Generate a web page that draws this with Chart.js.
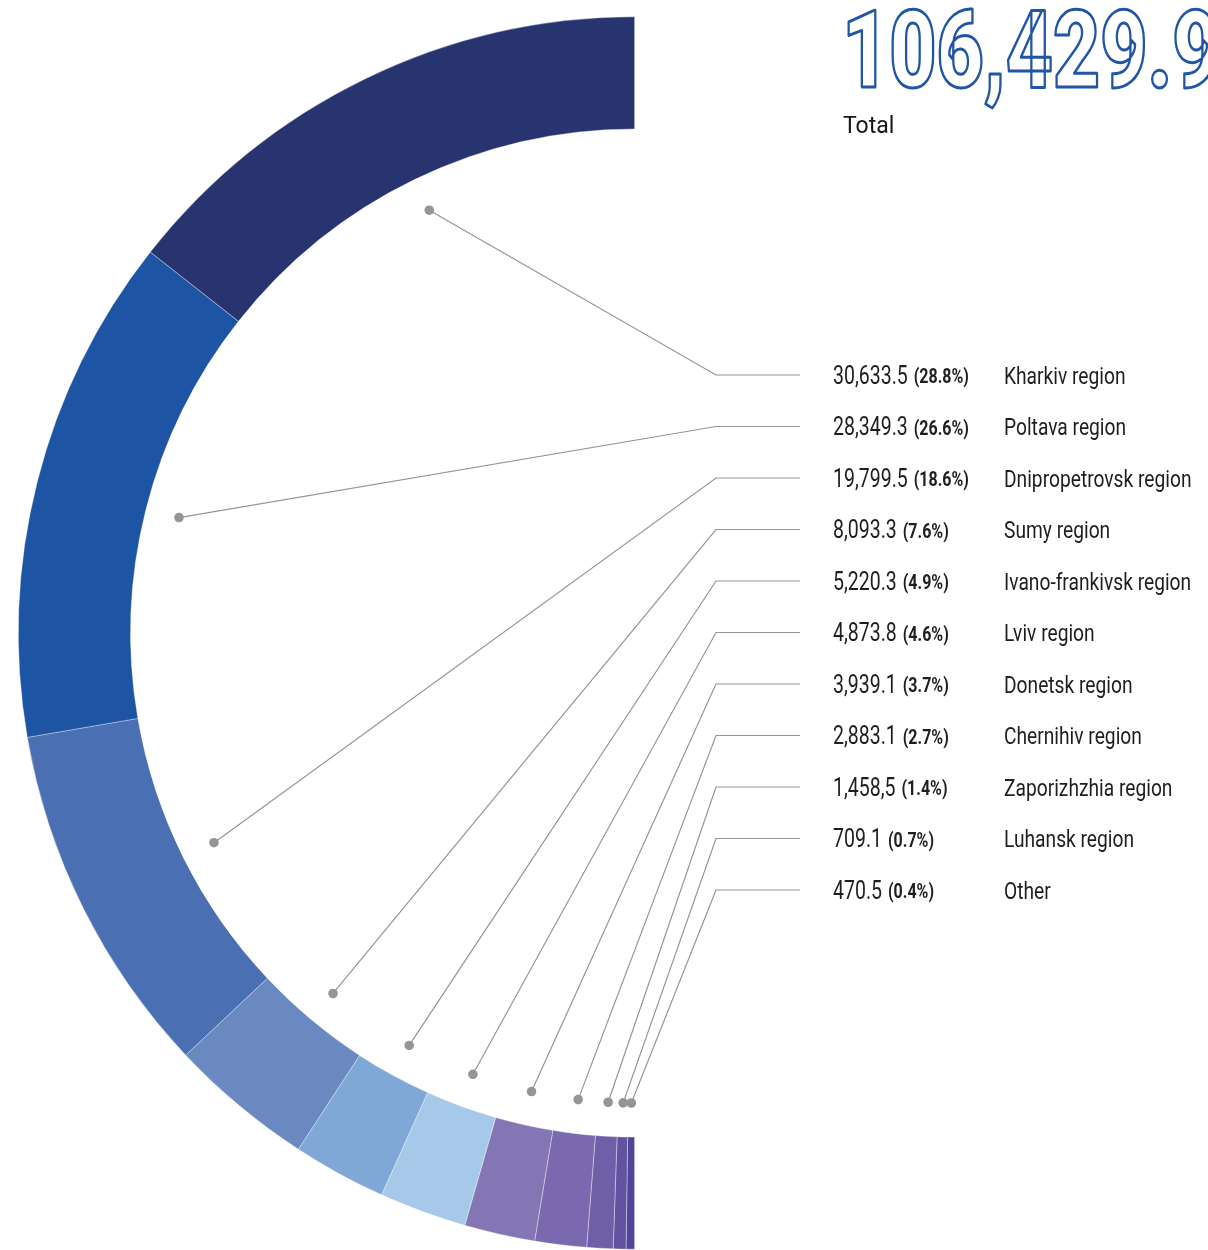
<!DOCTYPE html>
<html>
<head>
<meta charset="utf-8">
<script src="https://cdn.jsdelivr.net/npm/chart.js@4"></script>
<style>
  html, body { margin: 0; padding: 0; background: #ffffff; }
  #wrap { width: 1208px; height: 1250px; overflow: hidden; }
</style>
</head>
<body>
<div id="wrap"><canvas id="c" width="1208" height="1250"></canvas></div>
<script>
// ---- data ----
const regions = ['Kharkiv region', 'Poltava region', 'Dnipropetrovsk region', 'Sumy region',
  'Ivano-frankivsk region', 'Lviv region', 'Donetsk region', 'Chernihiv region',
  'Zaporizhzhia region', 'Luhansk region', 'Other'];
const values = [30633.5, 28349.3, 19799.5, 8093.3, 5220.3, 4873.8, 3939.1, 2883.1, 1458.5, 709.1, 470.5];
const valueLabels = ['30,633.5', '28,349.3', '19,799.5', '8,093.3', '5,220.3', '4,873.8',
  '3,939.1', '2,883.1', '1,458,5', '709.1', '470.5'];
const percentLabels = ['28.8%', '26.6%', '18.6%', '7.6%', '4.9%', '4.6%', '3.7%', '2.7%', '1.4%', '0.7%', '0.4%'];
const totalLabel = '106,429.9';
const totalCaption = 'Total';

const colors = ['#27346f', '#1e54a4', '#4a6fb3', '#6a89c1', '#80a8d7', '#a6c9ea',
  '#8475b5', '#7a69ae', '#6f5fa8', '#6253a1', '#53449a'];

// Chart.js draws clockwise from rotation; start at bottom so order is reversed
const rev = a => a.slice().reverse();

function txt(ctx, s, x, y, font, sx, mode) {
  ctx.save();
  ctx.font = font;
  ctx.translate(x, y);
  ctx.scale(sx, 1);
  if (mode === 'stroke') { ctx.fillText(s, 0, 0); ctx.strokeText(s, 0, 0); }
  else ctx.fillText(s, 0, 0);
  const w = ctx.measureText(s).width * sx;
  ctx.restore();
  return w;
}

const leaderPlugin = {
  id: 'leaders',
  afterDraw(chart) {
    const ctx = chart.ctx;
    const meta = chart.getDatasetMeta(0);
    const n = regions.length;
    const dotR = 470;
    ctx.save();
    ctx.textBaseline = 'alphabetic';
    ctx.textAlign = 'left';
    for (let i = 0; i < n; i++) {
      const arc = meta.data[n - 1 - i];
      const p = arc.getProps(['x', 'y', 'startAngle', 'endAngle'], true);
      const mid = (p.startAngle + p.endAngle) / 2;
      const dx = p.x + Math.cos(mid) * dotR;
      const dy = p.y + Math.sin(mid) * dotR;
      const ly = 375 + i * 51.5;
      ctx.strokeStyle = '#959595';
      ctx.lineWidth = 1.2;
      ctx.beginPath();
      ctx.moveTo(dx, dy);
      ctx.lineTo(716, ly);
      ctx.lineTo(800, ly);
      ctx.stroke();
      ctx.fillStyle = '#959595';
      ctx.beginPath();
      ctx.arc(dx, dy, 4.8, 0, Math.PI * 2);
      ctx.fill();

      ctx.fillStyle = '#1e1e1e';
      const base = ly + 8.5;
      const w = txt(ctx, valueLabels[i], 833, base, '400 25px Roboto', 0.78);
      txt(ctx, '(' + percentLabels[i] + ')', 833 + w + 6, base - 0.5, '700 20px Roboto', 0.8);
      txt(ctx, regions[i], 1004, base, '400 24px Roboto', 0.8);
    }
    // big total
    ctx.lineWidth = 3;
    ctx.strokeStyle = '#2155a5';
    ctx.fillStyle = '#ffffff';
    ctx.lineJoin = 'round';
    txt(ctx, totalLabel, 842, 87, '900 108px Roboto', 0.755, 'stroke');
    ctx.fillStyle = '#161616';
    txt(ctx, totalCaption, 843, 133, '400 23px Roboto', 1);
    ctx.restore();
  }
};

new Chart(document.getElementById('c'), {
  type: 'doughnut',
  data: {
    labels: rev(regions),
    datasets: [{
      data: rev(values),
      backgroundColor: rev(colors),
      borderColor: 'rgba(255,255,255,0.45)',
      borderWidth: 0.8
    }]
  },
  options: {
    responsive: false,
    animation: false,
    rotation: 180,
    circumference: 180,
    cutout: '81.8%',
    layout: { padding: { left: 18, right: 573, top: 16, bottom: 0 } },
    plugins: { legend: { display: false }, tooltip: { enabled: false } }
  },
  plugins: [leaderPlugin]
});
</script>
</body>
</html>
